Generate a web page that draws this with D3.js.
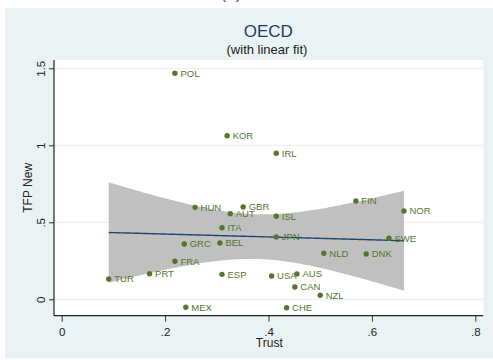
<!DOCTYPE html>
<html>
<head>
<meta charset="utf-8">
<script src="https://cdn.jsdelivr.net/npm/d3@7"></script>
<style>
  html, body { margin: 0; padding: 0; background: #ffffff; }
  svg { display: block; font-family: "Liberation Sans", Arial, sans-serif; }
</style>
</head>
<body>
<svg id="chart" width="493" height="360"></svg>
<script>
// OECD countries: generalised trust vs. TFP growth
const countries = ["POL","KOR","IRL","HUN","GBR","AUT","ITA","GRC","BEL","FRA","PRT","TUR","ESP","MEX",
                   "FIN","ISL","NOR","JPN","SWE","NLD","DNK","USA","AUS","CAN","NZL","CHE"];
const trust = [0.219,0.320,0.415,0.258,0.351,0.326,0.310,0.237,0.306,0.219,0.170,0.091,0.310,0.240,
               0.569,0.415,0.662,0.415,0.633,0.507,0.589,0.406,0.455,0.451,0.500,0.435];
const tfp   = [1.468,1.062,0.948,0.597,0.599,0.556,0.465,0.359,0.366,0.247,0.166,0.132,0.162,-0.052,
               0.638,0.539,0.573,0.405,0.396,0.299,0.294,0.151,0.164,0.080,0.026,-0.055];
const xTicks = [0, 0.2, 0.4, 0.6, 0.8];
const yTicks = [0, 0.5, 1, 1.5];
const tCrit = 2.0639; // Student t, 97.5%, df = n - 2 = 24

const colors = {
  panel: "#eaf2f3", plot: "#ffffff", grid: "#e6eef1",
  marker: "#55752f", fit: "#1a476f", band: "#c0c0c0",
  title: "#1e3a6a", text: "#222222"
};

const svg = d3.select("#chart");
const plot = { left: 54, right: 483.3, top: 60, bottom: 315.7 };

const x = d3.scaleLinear().domain([0, 0.8]).range([61.7, 475.3]);
const y = d3.scaleLinear().domain([0, 1.5]).range([299.3, 68.3]);

// figure label above the panel (only its lower edge falls inside the page)
svg.append("text").attr("x", 231).attr("y", -1.5).attr("text-anchor", "middle")
  .attr("font-size", 17).attr("fill", "#555").text("(b)");

// background panel and plot region
svg.append("rect").attr("x", 5).attr("y", 8).attr("width", 493).attr("height", 350.3)
  .attr("fill", colors.panel);
svg.append("rect").attr("x", plot.left).attr("y", plot.top)
  .attr("width", plot.right - plot.left).attr("height", plot.bottom - plot.top)
  .attr("fill", colors.plot);

// titles
svg.append("text").attr("x", 268.3).attr("y", 36.7).attr("text-anchor", "middle")
  .attr("font-size", 17).attr("fill", colors.title).text("OECD");
svg.append("text").attr("x", 267).attr("y", 54).attr("text-anchor", "middle")
  .attr("font-size", 13).attr("fill", colors.text).text("(with linear fit)");

// horizontal grid
svg.append("g").selectAll("line").data(yTicks).join("line")
  .attr("x1", plot.left).attr("x2", plot.right)
  .attr("y1", d => y(d)).attr("y2", d => y(d))
  .attr("stroke", colors.grid).attr("stroke-width", 1);

// OLS fit with 95% confidence band for the mean
const n = trust.length;
const mx = d3.mean(trust), my = d3.mean(tfp);
let sxx = 0, sxy = 0;
for (let i = 0; i < n; i++) {
  sxx += (trust[i] - mx) ** 2;
  sxy += (trust[i] - mx) * (tfp[i] - my);
}
const slope = sxy / sxx, intercept = my - slope * mx;
let sse = 0;
for (let i = 0; i < n; i++) sse += (tfp[i] - intercept - slope * trust[i]) ** 2;
const se = Math.sqrt(sse / (n - 2));
const [xmin, xmax] = d3.extent(trust);
const grid = d3.range(0, 101).map(k => xmin + (xmax - xmin) * k / 100);
const fitPts = grid.map(v => {
  const yh = intercept + slope * v;
  const hw = tCrit * se * Math.sqrt(1 / n + (v - mx) ** 2 / sxx);
  return { x: v, y: yh, lo: yh - hw, hi: yh + hw };
});

svg.append("path").datum(fitPts)
  .attr("d", d3.area().x(d => x(d.x)).y0(d => y(d.lo)).y1(d => y(d.hi)))
  .attr("fill", colors.band);
svg.append("path").datum(fitPts)
  .attr("d", d3.line().x(d => x(d.x)).y(d => y(d.y)))
  .attr("fill", "none").attr("stroke", colors.fit).attr("stroke-width", 1.4);

// points with country labels
const pts = svg.append("g").selectAll("g").data(countries).join("g")
  .attr("transform", (d, i) => `translate(${x(trust[i])},${y(tfp[i])})`);
pts.append("circle").attr("r", 2.7).attr("fill", colors.marker);
pts.append("text").attr("x", 5.5).attr("dy", "0.36em")
  .attr("font-size", 9.5).attr("fill", colors.marker).text(d => d);

// axes: "0", ".2", ".5", "1", "1.5"
const fmt = d => String(+d.toFixed(2)).replace(/^0\./, ".");
const gx = svg.append("g").attr("transform", `translate(0,${plot.bottom})`)
  .call(d3.axisBottom(x).tickValues(xTicks).tickFormat(fmt).tickSize(6).tickSizeOuter(0));
gx.select(".domain").remove();
gx.selectAll("line").attr("stroke", "#333");
gx.selectAll("text").attr("y", 20).attr("dy", 0).attr("font-size", 11.5)
  .attr("font-family", "Liberation Sans, Arial, sans-serif").attr("fill", colors.text);

const gy = svg.append("g").attr("transform", `translate(${plot.left},0)`)
  .call(d3.axisLeft(y).tickValues(yTicks).tickFormat(fmt).tickSize(5).tickSizeOuter(0));
gy.select(".domain").remove();
gy.selectAll("line").attr("stroke", "#333");
gy.selectAll("text").attr("transform", "rotate(-90)").attr("x", 0).attr("y", -9)
  .attr("dy", 0).attr("text-anchor", "middle").attr("font-size", 11.5)
  .attr("font-family", "Liberation Sans, Arial, sans-serif").attr("fill", colors.text);

// axis lines across the full plot region
svg.append("line").attr("x1", plot.left).attr("x2", plot.right)
  .attr("y1", plot.bottom).attr("y2", plot.bottom).attr("stroke", "#222").attr("stroke-width", 1.2);
svg.append("line").attr("x1", plot.left).attr("x2", plot.left)
  .attr("y1", plot.top).attr("y2", plot.bottom).attr("stroke", "#222").attr("stroke-width", 1.2);

// axis titles
svg.append("text").attr("x", 269.3).attr("y", 347).attr("text-anchor", "middle")
  .attr("font-size", 12).attr("fill", colors.text).text("Trust");
svg.append("text").attr("transform", `translate(31.5,${(plot.top + plot.bottom) / 2}) rotate(-90)`)
  .attr("text-anchor", "middle").attr("font-size", 12).attr("fill", colors.text).text("TFP New");
</script>
</body>
</html>
